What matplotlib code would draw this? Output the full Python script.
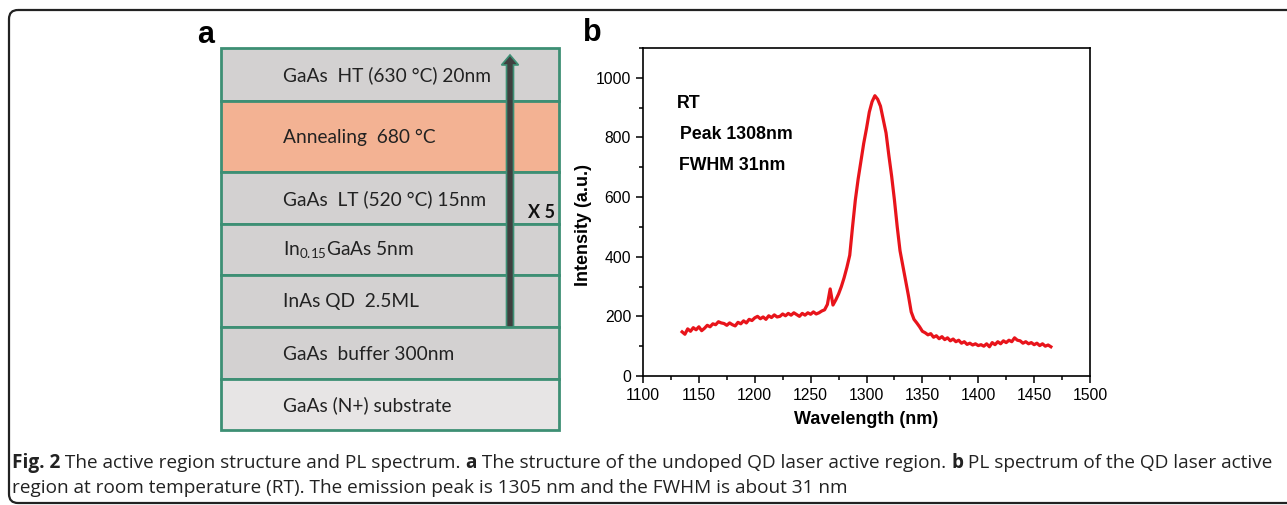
import numpy as np
import matplotlib
matplotlib.use("Agg")
import matplotlib.pyplot as plt
from matplotlib.patches import Rectangle, FancyBboxPatch, FancyArrow
from matplotlib.ticker import MultipleLocator

# ---- data ----
# layer stack for panel a (top to bottom)
layer_labels = ["GaAs  HT (630 °C) 20nm",
                "Annealing  680 °C",
                "GaAs  LT (520 °C) 15nm",
                r"In$_\mathregular{0.15}$GaAs 5nm",
                "InAs QD  2.5ML",
                "GaAs  buffer 300nm",
                "GaAs (N+) substrate"]
layer_colors = ["#d3d1d1", "#f3b293", "#d3d1d1", "#d3d1d1", "#d3d1d1", "#d3d1d1", "#e7e5e5"]
layer_edges = [48, 101, 172, 224, 275, 327, 379, 430]   # pixel rows

# PL spectrum, 2.5 nm steps
wavelength = np.arange(1135, 1465.1, 2.5)
intensity = [148, 140, 158, 150, 162, 155, 165, 152, 160, 170, 165,
             175, 172, 182, 178, 176, 170, 178, 172, 168, 180, 175, 185, 178, 190, 186, 195,
             200, 192, 198, 190, 202, 196, 205, 198, 200, 208, 202, 210, 204, 212, 206, 200,
             210, 204, 212, 207, 215, 208, 212, 218,
             222, 240, 292, 238, 255, 275, 300, 330,
             365, 405, 500, 590, 660, 720, 780, 830, 885, 920, 940, 928, 905, 860, 815, 740,
             670, 590, 500, 420, 370, 320, 270, 215, 190, 178, 165, 150,
             145, 138, 142, 130, 135, 125, 132, 122, 128, 118, 124, 115, 120, 110, 115, 106,
             110, 104, 108, 102,
             105, 100, 108, 98, 112, 105, 115, 108, 118, 112, 120, 115, 128, 120, 118, 110,
             115, 108, 112, 105, 110, 102, 108, 100, 104, 98]

caption1 = [("Fig. 2", "bold"), (" The active region structure and PL spectrum. ", "normal"),
            ("a", "bold"), (" The structure of the undoped QD laser active region. ", "normal"),
            ("b", "bold"), (" PL spectrum of the QD laser active", "normal")]
caption2 = "region at room temperature (RT). The emission peak is 1305 nm and the FWHM is about 31 nm"

W, H = 1287, 505
plt.rcParams["mathtext.fontset"] = "custom"
plt.rcParams["mathtext.rm"] = "Lato"
fig = plt.figure(figsize=(W / 100, H / 100), dpi=100)

# full-figure pixel axes for the drawing parts
base = fig.add_axes([0, 0, 1, 1])
base.set_xlim(0, W)
base.set_ylim(H, 0)
base.axis("off")

# outer rounded frame
base.add_patch(FancyBboxPatch((9, 10), W + 20, H - 12, boxstyle="round,pad=0,rounding_size=9",
                              fill=False, ec="#222222", lw=1.6, clip_on=True))

# panel a: layers
green = "#3d8f74"
x0, x1 = 221, 559
for i, lab in enumerate(layer_labels):
    top, bot = layer_edges[i], layer_edges[i + 1]
    base.add_patch(Rectangle((x0, top), x1 - x0, bot - top, fc=layer_colors[i], ec=green, lw=2))
    base.text(283, (top + bot) / 2 + 1, lab, fontsize=13.8, family="Lato", color="#222222",
              va="center", ha="left")

# repeat arrow
base.add_patch(FancyArrow(510, 327, 0, -262, width=7, head_width=17, head_length=10,
                          length_includes_head=False, fc="#3f3f3f", ec=green, lw=1.2))
base.text(541, 213, "X 5", fontsize=13, family="Lato", fontweight="bold", ha="center", va="center",
          color="#111111")
base.text(206, 43, "a", fontsize=22, fontweight="bold", family="Liberation Sans", ha="center",
          va="baseline")
base.text(592, 41, "b", fontsize=22, fontweight="bold", family="Liberation Sans", ha="center",
          va="baseline")

# panel b: PL spectrum
ax = fig.add_axes([643 / W, (H - 376) / H, 447 / W, 328 / H])
ax.plot(wavelength, intensity, color="#e8141b", lw=2.3)
ax.set_xlim(1100, 1500)
ax.set_ylim(0, 1100)
ax.xaxis.set_major_locator(MultipleLocator(50))
ax.xaxis.set_minor_locator(MultipleLocator(25))
ax.yaxis.set_major_locator(MultipleLocator(200))
ax.yaxis.set_minor_locator(MultipleLocator(100))
ax.set_yticks([0, 200, 400, 600, 800, 1000])
ax.tick_params(which="both", direction="out", top=False, right=False, labelsize=11.3, width=1.1)
ax.tick_params(which="major", length=5)
ax.tick_params(which="minor", length=3)
for lab in ax.get_xticklabels() + ax.get_yticklabels():
    lab.set_family("Liberation Sans")
for s in ax.spines.values():
    s.set_linewidth(1.2)
ax.set_xlabel("Wavelength (nm)", fontsize=13, fontweight="bold", family="Liberation Sans", labelpad=6)
ax.set_ylabel("Intensity (a.u.)", fontsize=13, fontweight="bold", family="Liberation Sans", labelpad=2)
ax.yaxis.set_label_coords(-0.115, 0.46)
ax.text(1130, 914, "RT", fontsize=12.8, fontweight="bold", family="Liberation Sans", va="center")
ax.text(1133, 811, "Peak 1308nm", fontsize=12.8, fontweight="bold", family="Liberation Sans", va="center")
ax.text(1132, 707, "FWHM 31nm", fontsize=12.8, fontweight="bold", family="Liberation Sans", va="center")

# caption, mixed weights, fitted to the line width
renderer = fig.canvas.get_renderer()
cap_fs = 12.0
def draw_line(parts, y, fs):
    x = 12
    arts = []
    for txt, wt in parts:
        t = base.text(x, y, txt, fontsize=fs, fontweight=wt, family="Open Sans", color="#222222",
                      va="baseline")
        bb = t.get_window_extent(renderer)
        x += bb.width
        arts.append(t)
    return x, arts

end, arts = draw_line(caption1, 468, cap_fs)
scale = (1272 - 12) / (end - 12)
for a in arts:
    a.remove()
cap_fs *= scale
draw_line(caption1, 468, cap_fs)
draw_line([(caption2, "normal")], 493, cap_fs)

fig.savefig("out.png", dpi=100)
